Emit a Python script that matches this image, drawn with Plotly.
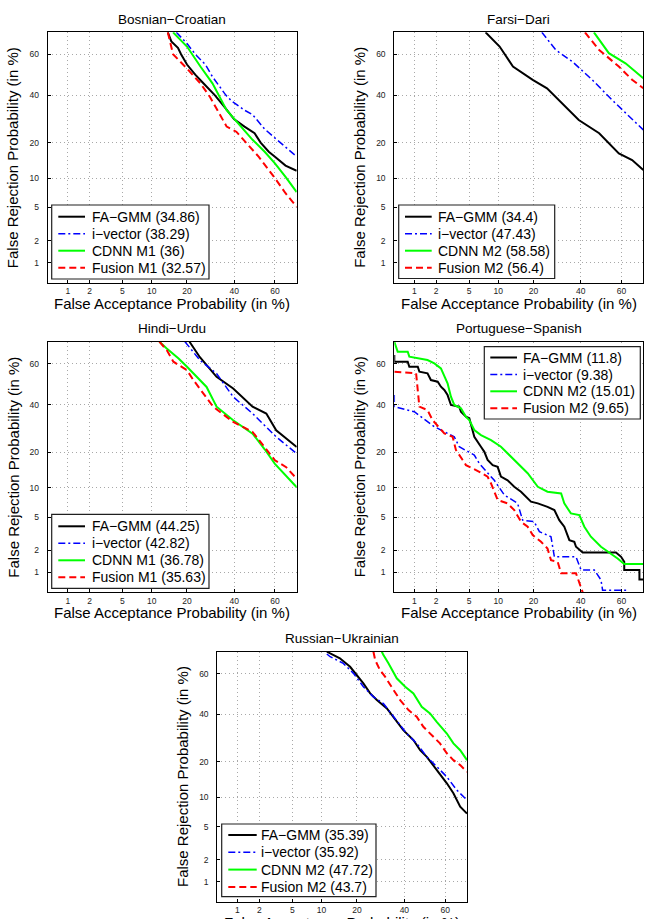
import plotly.graph_objects as go
from statistics import NormalDist

# ---------------------------------------------------------------- data (%)
TICK_VALUES = [1, 2, 5, 10, 20, 40, 60]
TICK_LABELS = ["1", "2", "5", "10", "20", "40", "60"]
AXIS_RANGE_PCT = [0.5, 70]

TITLES = ["Bosnian−Croatian", "Farsi−Dari", "Hindi−Urdu",
          "Portuguese−Spanish", "Russian−Ukrainian"]
X_LABEL = "False Acceptance Probability (in %)"
Y_LABEL = "False Rejection Probability (in %)"

NAMES_M1 = ["FA−GMM", "i−vector", "CDNN M1", "Fusion M1"]
NAMES_M2 = ["FA−GMM", "i−vector", "CDNN M2", "Fusion M2"]

EER_BC = [34.86, 38.29, 36, 32.57]
EER_FD = [34.4, 47.43, 58.58, 56.4]
EER_HU = [44.25, 42.82, 36.78, 35.63]
EER_PS = [11.8, 9.38, 15.01, 9.65]
EER_RU = [35.39, 35.92, 47.72, 43.7]

# Bosnian-Croatian
BC_FAGMM_FA = [14, 15, 17, 18, 20, 23, 26, 31, 35, 40, 45, 50, 53, 57, 60, 65, 70]
BC_FAGMM_FR = [70, 66, 63, 60, 55, 50, 46, 40, 35, 29, 26, 23.4, 20, 17, 15.5, 13, 11.7]
BC_IVEC_FA = [16.5, 20, 23, 27, 30, 36, 39, 45, 49, 55, 61, 70]
BC_IVEC_FR = [70, 65, 60, 55, 49, 40, 37, 33, 31, 25, 21, 15.5]
BC_CDNN_FA = [15.5, 20, 25, 30, 36.4, 42, 49, 55, 60, 65, 70]
BC_CDNN_FR = [70, 63.6, 54, 45.7, 33, 27.3, 21, 17, 13.6, 10.3, 7.3]
BC_FUS_FA = [14, 15.5, 20, 25, 29, 33, 36.4, 41, 46, 52, 60, 65, 70]
BC_FUS_FR = [70, 60, 53, 45.7, 39, 31.6, 26, 24, 19.8, 15.5, 10, 7.1, 5.1]

# Farsi-Dari
FD_FAGMM_FA = [7.5, 10.3, 13.6, 19.7, 25, 30, 39, 49, 58.7, 65, 70]
FD_FAGMM_FR = [70, 63.6, 54, 47.4, 43.3, 37.7, 28.7, 23.4, 16.5, 14.5, 11.9]
FD_IVEC_FA = [23, 28.6, 36, 45.6, 55.4, 62, 70]
FD_IVEC_FR = [70, 62, 56.4, 47.4, 37.7, 31.6, 24.7]
FD_CDNN_FA = [46.4, 53.8, 61.9, 70]
FD_CDNN_FR = [70, 60.5, 55.6, 48.2]
FD_FUS_FA = [42, 49, 58.7, 65, 70]
FD_FUS_FR = [70, 62, 54, 47.5, 43.3]

# Hindi-Urdu
HU_FAGMM_FA = [20.9, 24.8, 31.8, 39.5, 49, 55.8, 60.6, 70]
HU_FAGMM_FR = [70, 63, 53.6, 47.8, 39, 35.8, 28.4, 21.8]
HU_IVEC_FA = [19.3, 24.8, 31.8, 39.5, 49, 60.6, 70]
HU_IVEC_FR = [70, 61.6, 55.2, 43.7, 35.8, 25.7, 19.5]
HU_CDNN_FA = [11.8, 13.7, 17.2, 20, 27.5, 31.8, 39.5, 49, 55, 60, 70]
HU_CDNN_FR = [70, 67, 62.4, 58.5, 48.6, 39, 32.7, 27, 21, 16.2, 10.1]
HU_FUS_FA = [11.8, 13.7, 15.6, 20, 22.3, 30.3, 39.5, 49, 60, 65.3, 70]
HU_FUS_FR = [70, 66.3, 60.9, 56.8, 52, 39, 32, 27.7, 17.3, 15.2, 12.1]

# Portuguese-Spanish
PS_FAGMM_FA = [0.5, 0.5, 0.8, 0.845, 1.12, 1.18, 1.53, 1.70, 2.09, 2.30, 2.54, 2.79, 3.07,
               3.86, 4.04, 4.61, 5.03, 5.48, 5.71, 6.72, 7.29, 7.87, 8.84, 9.87, 10.6, 12.2,
               13.95, 15.9, 16.9, 19.1, 21.5, 25.2, 28.0, 30.1, 32.3, 34.6, 36.9, 37.7,
               40.9, 57.3, 59.8, 61.3, 61.3, 68.3, 68.3, 70]
PS_FAGMM_FR = [64.0, 60.9, 60.9, 58.5, 58.5, 56.1, 55.3, 52.0, 51.2, 48.7, 47.1, 44.6, 39.8,
               39.0, 36.6, 34.3, 33.6, 28.5, 25.7, 21.9, 20.1, 17.4, 15.8, 15.3, 12.6, 11.7,
               10.2, 9.15, 8.5, 7.3, 7.0, 6.45, 5.95, 4.62, 3.88, 2.68, 2.55, 2.21, 1.86,
               1.86, 1.63, 1.40, 1.07, 1.07, 0.78, 0.78]
PS_IVEC_FA = [0.5, 0.5, 1.0, 1.89, 3.37, 3.86, 5.71, 6.46, 9.16, 11.4, 14.9, 16.4, 20.2,
              22.1, 26.6, 28.0, 37.7, 40.1, 46.6, 49.9, 50.7, 62.9]
PS_IVEC_FR = [44.6, 39.0, 36.6, 29.9, 25.7, 21.9, 19.0, 16.3, 11.7, 8.5, 7.0, 4.62, 4.43,
              3.39, 2.95, 1.63, 1.63, 1.07, 1.07, 0.77, 0.54, 0.54]
PS_CDNN_FA = [0.5, 0.564, 0.80, 0.845, 1.53, 1.89, 2.30, 2.54, 2.79, 3.07, 3.37, 4.04, 4.61,
              5.03, 5.71, 6.72, 8.51, 10.6, 13.1, 15.9, 18.0, 21.5, 25.2, 30.9, 32.3, 35.3,
              39.3, 41.7, 44.9, 49.9, 54.9, 58.1, 61.3, 70]
PS_CDNN_FR = [70, 65.6, 65.6, 63.3, 61.7, 60.1, 57.7, 53.6, 50.4, 43.8, 39.8, 38.2, 34.3,
              32.8, 28.5, 26.4, 24.4, 21.9, 18.4, 15.3, 13.5, 10.2, 9.15, 8.8, 7.0, 5.48,
              5.25, 3.88, 2.95, 2.21, 1.81, 1.55, 1.30, 1.30]
PS_FUS_FA = [0.5, 1.06, 1.18, 1.53, 1.79, 2.54, 3.22, 3.53, 4.23, 4.61, 6.46, 7.87, 8.51,
             9.87, 12.2, 13.95, 15.9, 18.0, 19.7, 22.7, 25.2, 26.6, 29.4, 30.9, 37.7,
             40.1, 40.9]
PS_FUS_FR = [56.1, 55.3, 39.0, 37.4, 32.8, 27.1, 25.7, 20.7, 17.4, 15.8, 13.9, 12.6, 10.95,
             7.57, 7.0, 5.95, 4.43, 3.88, 3.09, 2.55, 2.1, 1.47, 1.40, 0.96, 0.96, 0.61, 0.5]

# Russian-Ukrainian
RU_FAGMM_FA = [11.2, 12, 14.6, 17.7, 19.9, 22.3, 24.9, 27.6, 31.9, 36.4, 39.5, 44.4, 47.7,
               51, 55.9, 60.8, 63.9, 67, 70]
RU_FAGMM_FR = [70, 69.3, 67.1, 63.2, 59.3, 55.2, 50.3, 47, 42.9, 36.5, 32.7, 28.4, 24.3,
               21.8, 17.3, 13.4, 10.9, 8.1, 6.9]
RU_IVEC_FA = [11.2, 12, 15.6, 18.8, 22.3, 26.2, 30.4, 36.4, 41.1, 46, 51, 55.9, 60.8, 65.4, 70]
RU_IVEC_FR = [69, 67.8, 64.8, 60.1, 53.6, 48.6, 45.3, 37.3, 31.2, 27, 21.8, 18.4, 15.2, 11.7, 9.4]
RU_CDNN_FA = [29.7, 30.4, 32.6, 34.9, 36.4, 40.4, 44.4, 48.5, 52.6, 55.9, 60.8, 63.9, 67.0, 70]
RU_CDNN_FR = [70, 68.5, 64.8, 60.1, 57.7, 53.6, 50.3, 43.7, 40.5, 36.5, 31.2, 27, 24.3, 20.6]
RU_FUS_FA = [26.2, 26.9, 28.9, 31.1, 34.9, 38.0, 42.0, 46.0, 49.3, 52.6, 57.5, 60.8, 63.9, 67.0, 70]
RU_FUS_FR = [70, 66.3, 61.7, 58.5, 52, 47, 42.1, 38.9, 34.2, 31.2, 27, 23.1, 20.6, 18.9, 16.7]

# ---------------------------------------------------------------- figure
W, H = 652, 919
_nd = NormalDist()


def probit(p):
    """Normal-deviate (DET) scale for a percentage."""
    return _nd.inv_cdf(p / 100.0)


COLORS = ["#000000", "#0000ff", "#00ff00", "#ff0000"]
WIDTHS = [2, 1.5, 2, 2]
DASHES = ["solid", "7px,3px,2px,3px", "solid", "7px,4px"]

PANELS = [
    dict(title=TITLES[0], box=(47.7, 32.3, 296.7, 282.7), names=NAMES_M1, eer=EER_BC,
         curves=[(BC_FAGMM_FA, BC_FAGMM_FR), (BC_IVEC_FA, BC_IVEC_FR),
                 (BC_CDNN_FA, BC_CDNN_FR), (BC_FUS_FA, BC_FUS_FR)],
         leg=dict(box=(51.7, 205, 209, 279), lx=(58.3, 85), tx=90,
                  rows=[216.7, 233.7, 250.7, 267.7])),
    dict(title=TITLES[1], box=(394.3, 32.3, 643.3, 282.7), names=NAMES_M2, eer=EER_FD,
         curves=[(FD_FAGMM_FA, FD_FAGMM_FR), (FD_IVEC_FA, FD_IVEC_FR),
                 (FD_CDNN_FA, FD_CDNN_FR), (FD_FUS_FA, FD_FUS_FR)],
         leg=dict(box=(398.7, 205, 554.7, 278.5), lx=(405, 431.7), tx=436,
                  rows=[216.7, 233.7, 250.7, 267.7])),
    dict(title=TITLES[2], box=(47.7, 341.7, 296.7, 592.3), names=NAMES_M1, eer=EER_HU,
         curves=[(HU_FAGMM_FA, HU_FAGMM_FR), (HU_IVEC_FA, HU_IVEC_FR),
                 (HU_CDNN_FA, HU_CDNN_FR), (HU_FUS_FA, HU_FUS_FR)],
         leg=dict(box=(51.7, 514.3, 209, 588.3), lx=(58.3, 85), tx=90,
                  rows=[526.3, 543.3, 560.3, 577.3])),
    dict(title=TITLES[3], box=(394.3, 341.7, 643.3, 592.3), names=NAMES_M2, eer=EER_PS,
         curves=[(PS_FAGMM_FA, PS_FAGMM_FR), (PS_IVEC_FA, PS_IVEC_FR),
                 (PS_CDNN_FA, PS_CDNN_FR), (PS_FUS_FA, PS_FUS_FR)],
         leg=dict(box=(484.3, 346.7, 640.3, 419), lx=(490.3, 517), tx=521.3,
                  rows=[357.5, 374.5, 391.3, 408.3])),
    dict(title=TITLES[4], box=(217.3, 651.7, 467, 901.7), names=NAMES_M2, eer=EER_RU,
         curves=[(RU_FAGMM_FA, RU_FAGMM_FR), (RU_IVEC_FA, RU_IVEC_FR),
                 (RU_CDNN_FA, RU_CDNN_FR), (RU_FUS_FA, RU_FUS_FR)],
         leg=dict(box=(221.7, 824, 376, 896.7), lx=(228.3, 256.7), tx=259.3,
                  rows=[835, 852.3, 869.6, 886.9])),
]

FONT = "Liberation Sans, Arial, Helvetica, sans-serif"


def px(x):
    return x / W


def py(y):
    return 1 - y / H


fig = go.Figure()
layout = dict(width=W, height=H, margin=dict(l=0, r=0, t=0, b=0),
              paper_bgcolor="white", plot_bgcolor="white", showlegend=False,
              font=dict(family=FONT, color="black"))
annotations = []
shapes = []

rng = [probit(AXIS_RANGE_PCT[0]), probit(AXIS_RANGE_PCT[1])]
tickpos = [probit(t) for t in TICK_VALUES]

for i, p in enumerate(PANELS):
    sfx = "" if i == 0 else str(i + 1)
    l, t, r, b = p["box"]
    for s, (fa, fr) in enumerate(p["curves"]):
        label = f"{p['names'][s]} ({p['eer'][s]:g})"
        fig.add_trace(go.Scatter(
            x=[probit(v) for v in fa], y=[probit(v) for v in fr],
            xaxis="x" + sfx, yaxis="y" + sfx, mode="lines", name=label,
            customdata=list(zip(fa, fr)),
            hovertemplate="FA %{customdata[0]}%<br>FR %{customdata[1]}%<extra>" + label + "</extra>",
            line=dict(color=COLORS[s], width=WIDTHS[s], dash=DASHES[s])))
    common = dict(range=rng, tickvals=tickpos, ticktext=TICK_LABELS, showgrid=True,
                  gridcolor="#a8a8a8", griddash="1px,3px", gridwidth=1, zeroline=False,
                  showline=True, mirror=True, linecolor="black", linewidth=1,
                  ticks="inside", ticklen=3, tickcolor="black",
                  tickfont=dict(size=8.5, color="#222222", family=FONT))
    layout["xaxis" + sfx] = dict(common, domain=[px(l), px(r)], anchor="y" + sfx)
    layout["yaxis" + sfx] = dict(common, domain=[py(b), py(t)], anchor="x" + sfx,
                                 ticklabelstandoff=6)
    cx, cy = (l + r) / 2, (t + b) / 2
    annotations.append(dict(text=p["title"], x=px(cx), y=py(t - 13), xref="paper", yref="paper",
                            showarrow=False, xanchor="center", yanchor="middle",
                            font=dict(size=13.5)))
    annotations.append(dict(text=X_LABEL, x=px(cx), y=py(b + 20.5), xref="paper", yref="paper",
                            showarrow=False, xanchor="center", yanchor="middle",
                            font=dict(size=15)))
    annotations.append(dict(text=Y_LABEL, x=px(l - 35), y=py(cy), xref="paper", yref="paper",
                            showarrow=False, xanchor="center", yanchor="middle", textangle=-90,
                            font=dict(size=15)))
    lg = p["leg"]
    bl, bt, br, bb = lg["box"]
    shapes.append(dict(type="rect", xref="paper", yref="paper", x0=px(bl), x1=px(br),
                       y0=py(bb), y1=py(bt), fillcolor="white",
                       line=dict(color="#202020", width=1.2), layer="above"))
    for s, ry in enumerate(lg["rows"]):
        shapes.append(dict(type="line", xref="paper", yref="paper",
                           x0=px(lg["lx"][0]), x1=px(lg["lx"][1]), y0=py(ry), y1=py(ry),
                           line=dict(color=COLORS[s], width=WIDTHS[s], dash=DASHES[s]),
                           layer="above"))
        annotations.append(dict(text=f"{p['names'][s]} ({p['eer'][s]:g})",
                                x=px(lg["tx"]), y=py(ry), xref="paper", yref="paper",
                                showarrow=False, xanchor="left", yanchor="middle",
                                font=dict(size=14)))

layout["annotations"] = annotations
layout["shapes"] = shapes
fig.update_layout(**layout)
fig.write_html("out.html")
